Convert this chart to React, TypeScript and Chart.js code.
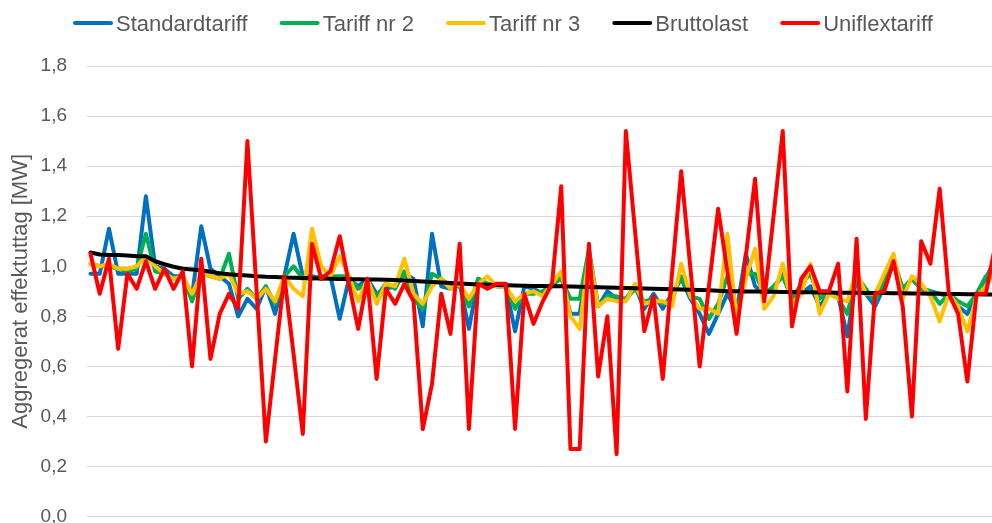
import React, { useEffect, useRef } from "react";
import { Chart, registerables } from "chart.js";

Chart.register(...registerables);

// ---- data ----
const categories: number[] = Array.from({ length: 99 }, (_, i) => i + 1);

const standardtariff = [
  0.97, 0.97, 1.15, 0.97, 0.97, 0.97, 1.28, 1.0, 0.99, 0.96,
  0.96, 0.88, 1.16, 0.99, 0.96, 0.93, 0.8, 0.87, 0.83, 0.92,
  0.81, 0.96, 1.13, 0.96, 0.96, 0.95, 0.96, 0.79, 0.95, 0.92,
  0.95, 0.89, 0.91, 0.92, 0.97, 0.95, 0.76, 1.13, 0.92, 0.91,
  0.93, 0.75, 0.95, 0.93, 0.92, 0.92, 0.74, 0.92, 0.91, 0.89,
  0.92, 0.96, 0.81, 0.81, 1.05, 0.84, 0.9, 0.87, 0.87, 0.92,
  0.83, 0.89, 0.83, 0.89, 0.95, 0.87, 0.81, 0.73, 0.81, 0.89,
  0.82, 1.05, 0.92, 0.89, 0.91, 0.97, 0.87, 0.89, 0.92, 0.84,
  0.89, 0.88, 0.72, 0.96, 0.89, 0.84, 0.92, 1.01, 0.91, 0.95,
  0.91, 0.9, 0.89, 0.88, 0.84, 0.81, 0.89, 0.95, 1.03,
];

const tariffNr2 = [
  1.01, 1.0, 1.0, 0.99, 0.98, 0.99, 1.13, 0.98, 0.97, 0.95,
  0.96, 0.86, 0.97, 0.96, 0.95, 1.05, 0.87, 0.91, 0.87, 0.92,
  0.85, 0.96, 1.0, 0.95, 0.95, 0.96, 0.96, 0.96, 0.96, 0.91,
  0.93, 0.88, 0.93, 0.91, 0.98, 0.87, 0.83, 0.97, 0.95, 0.92,
  0.92, 0.84, 0.95, 0.93, 0.92, 0.92, 0.83, 0.89, 0.89, 0.9,
  0.93, 0.95, 0.87, 0.87, 1.07, 0.84, 0.88, 0.88, 0.87, 0.91,
  0.86, 0.87, 0.85, 0.87, 0.96, 0.88, 0.87, 0.79, 0.85, 0.96,
  0.81, 0.97, 0.97, 0.89, 0.92, 0.96, 0.87, 0.93, 0.97, 0.87,
  0.9, 0.87, 0.81, 0.96, 0.91, 0.86, 0.95, 1.03, 0.91, 0.95,
  0.91, 0.9, 0.85, 0.89, 0.86, 0.84, 0.89, 0.96, 1.0,
];

const tariffNr3 = [
  1.01, 1.0, 1.01, 0.99, 0.99, 1.0, 1.04, 1.0, 0.97, 0.95,
  0.96, 0.89, 0.97, 0.96, 0.95, 0.97, 0.89, 0.9, 0.87, 0.91,
  0.86, 0.96, 0.91, 0.88, 1.15, 1.0, 0.96, 1.04, 0.96, 0.86,
  0.95, 0.85, 0.93, 0.92, 1.03, 0.89, 0.85, 0.92, 0.95, 0.91,
  0.93, 0.87, 0.93, 0.96, 0.92, 0.92, 0.86, 0.89, 0.9, 0.88,
  0.93, 0.98, 0.8, 0.75, 1.05, 0.84, 0.87, 0.86, 0.86, 0.93,
  0.85, 0.86, 0.86, 0.84, 1.01, 0.88, 0.83, 0.83, 0.81, 1.13,
  0.79, 0.95, 1.07, 0.83, 0.88, 1.01, 0.85, 0.89, 1.01, 0.81,
  0.89, 0.87, 0.86, 0.98, 0.89, 0.89, 0.97, 1.05, 0.87, 0.96,
  0.93, 0.88, 0.78, 0.89, 0.84, 0.74, 0.88, 0.92, 0.98,
];

const bruttolast = [
  1.055, 1.047, 1.045, 1.045, 1.043, 1.04, 1.04, 1.02, 1.008, 0.998,
  0.99, 0.987, 0.984, 0.978, 0.972, 0.968, 0.965, 0.963, 0.96, 0.958,
  0.957, 0.955, 0.954, 0.953, 0.952, 0.951, 0.95, 0.949, 0.948, 0.948,
  0.947, 0.947, 0.946, 0.945, 0.943, 0.941, 0.939, 0.937, 0.935, 0.933,
  0.931, 0.929, 0.927, 0.926, 0.925, 0.924, 0.923, 0.922, 0.921, 0.921,
  0.92, 0.92, 0.919, 0.918, 0.917, 0.916, 0.915, 0.914, 0.913, 0.912,
  0.911, 0.91, 0.909, 0.908, 0.907, 0.906, 0.905, 0.904, 0.902, 0.9,
  0.9, 0.899, 0.899, 0.898, 0.898, 0.897, 0.897, 0.896, 0.896, 0.895,
  0.895, 0.894, 0.894, 0.894, 0.893, 0.893, 0.893, 0.892, 0.892, 0.891,
  0.891, 0.89, 0.89, 0.889, 0.889, 0.888, 0.888, 0.887, 0.887,
];

const uniflextariff = [
  1.05, 0.89, 1.03, 0.67, 0.97, 0.91, 1.02, 0.91, 0.99, 0.91,
  0.98, 0.6, 1.03, 0.63, 0.81, 0.89, 0.83, 1.5, 0.9, 0.3,
  0.63, 0.96, 0.65, 0.33, 1.09, 0.95, 0.98, 1.12, 0.93, 0.75,
  0.95, 0.55, 0.91, 0.85, 0.93, 0.86, 0.35, 0.53, 0.89, 0.73,
  1.09, 0.35, 0.93, 0.91, 0.93, 0.93, 0.35, 0.89, 0.77, 0.86,
  0.93, 1.32, 0.27, 0.27, 1.09, 0.56, 0.8, 0.25, 1.54, 1.14,
  0.74, 0.88, 0.55, 0.97, 1.38, 0.99, 0.6, 0.92, 1.23, 0.98,
  0.73, 1.04, 1.35, 0.86, 1.2, 1.54, 0.76, 0.95, 1.0, 0.9,
  0.9, 1.01, 0.5, 1.11, 0.39, 0.89, 0.9, 1.02, 0.84, 0.4,
  1.1, 1.01, 1.31, 0.89, 0.81, 0.54, 0.89, 0.89, 1.08,
];

const seriesNames = ["Standardtariff", "Tariff nr 2", "Tariff nr 3", "Bruttolast", "Uniflextariff"];
const seriesValues = [standardtariff, tariffNr2, tariffNr3, bruttolast, uniflextariff];
const seriesColors = ["#0070C0", "#00B050", "#FFC000", "#000000", "#FF0000"];

const yTicks = [0, 0.2, 0.4, 0.6, 0.8, 1.0, 1.2, 1.4, 1.6, 1.8];
const yTitle = "Aggregerat effektuttag [MW]";

const FONT = '"Liberation Sans", Arial, sans-serif';
const TEXT_COLOR = "#595959";

const legendPlugin = {
  id: "topLegend",
  afterDraw(chart: any) {
    const ctx = chart.ctx as CanvasRenderingContext2D;
    ctx.save();
    ctx.font = `22px ${FONT}`;
    ctx.textBaseline = "alphabetic";
    ctx.textAlign = "left";
    let x = 73;
    chart.data.datasets.forEach((ds: any) => {
      ctx.strokeStyle = ds.borderColor;
      ctx.lineWidth = 4;
      ctx.lineCap = "round";
      ctx.beginPath();
      ctx.moveTo(x + 2, 23);
      ctx.lineTo(x + 38, 23);
      ctx.stroke();
      ctx.fillStyle = TEXT_COLOR;
      ctx.fillText(ds.label, x + 43, 30.5);
      x += 43 + ctx.measureText(ds.label).width + 32;
    });
    ctx.restore();
  },
};

export default function App() {
  const canvasRef = useRef<HTMLCanvasElement | null>(null);

  useEffect(() => {
    const canvas = canvasRef.current;
    if (!canvas) return;
    const datasets = seriesNames.map((name, k) => ({
      label: name,
      data: seriesValues[k],
      borderColor: seriesColors[k],
      backgroundColor: seriesColors[k],
      borderWidth: 4,
      pointRadius: 0,
      pointHoverRadius: 0,
      tension: 0,
      fill: false,
      borderJoinStyle: "round" as const,
      borderCapStyle: "round" as const,
      order: seriesNames.length - k,
    }));
    const chart = new Chart(canvas, {
      type: "line",
      data: { labels: categories, datasets },
      options: {
        animation: false,
        responsive: false,
        devicePixelRatio: 1,
        layout: { padding: { top: 66, left: 0, right: 0, bottom: 24 } },
        plugins: {
          legend: { display: false },
          tooltip: { enabled: false },
        },
        scales: {
          x: {
            type: "linear",
            min: 0.62,
            max: 98.67,
            display: false,
          },
          y: {
            min: yTicks[0],
            max: yTicks[yTicks.length - 1],
            afterBuildTicks: (scale: any) => {
              scale.ticks = yTicks.map((v) => ({ value: v }));
            },
            afterFit: (scale: any) => {
              scale.width = 87;
            },
            ticks: {
              padding: 20,
              color: TEXT_COLOR,
              font: { family: FONT, size: 19 },
              callback: (v: any) => Number(v).toFixed(1).replace(".", ","),
            },
            grid: { color: "#d9d9d9", lineWidth: 1, drawTicks: false },
            border: { display: false },
            title: {
              display: true,
              text: yTitle,
              color: TEXT_COLOR,
              font: { family: FONT, size: 22 },
              padding: { top: 8, bottom: 0 },
            },
          },
        },
      },
      plugins: [legendPlugin],
    });
    return () => chart.destroy();
  }, []);

  return (
    <div
      style={{
        position: "fixed",
        left: 0,
        top: 0,
        width: 992,
        height: 523,
        overflow: "hidden",
        background: "#ffffff",
      }}
    >
      <canvas ref={canvasRef} width={992} height={548} style={{ width: 992, height: 548, display: "block" }} />
    </div>
  );
}
